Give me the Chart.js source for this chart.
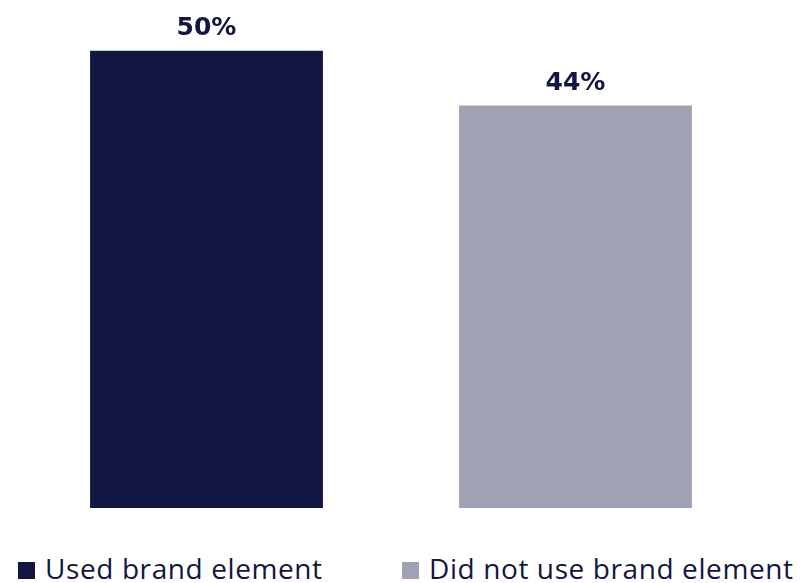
<!DOCTYPE html>
<html>
<head>
<meta charset="utf-8">
<script src="https://cdn.jsdelivr.net/npm/chart.js@4.4.1/dist/chart.umd.min.js"></script>
<style>
  html, body { margin: 0; padding: 0; background: #fff; }
  #wrap { position: relative; width: 801px; height: 583px; }
  #chartBox { width: 801px; height: 510px; }
  #legend { position: absolute; left: 18px; top: 551px; display: flex; }
  .item { display: flex; align-items: center; font: 28px "Open Sans", sans-serif; color: #131640; letter-spacing: 0.6px; line-height: 34px; }
  .item:first-child { width: 384px; }
  .swatch { width: 17px; height: 17px; margin-right: 10px; margin-top: 4px; }
</style>
</head>
<body>
<div id="wrap">
  <div id="chartBox"><canvas id="brandChart"></canvas></div>
  <div id="legend"></div>
</div>
<script>
const categories = ['Used brand element', 'Did not use brand element'];
const usedValues = [50, null];
const notUsedValues = [null, 44];
const colors = ['#131640', '#a0a1b3'];

// percentage labels above each bar
const valueLabels = {
  id: 'valueLabels',
  afterDatasetsDraw(chart) {
    const ctx = chart.ctx;
    ctx.save();
    ctx.font = 'bold 25px "DejaVu Sans"';
    ctx.fillStyle = '#131640';
    ctx.textAlign = 'center';
    ctx.textBaseline = 'alphabetic';
    chart.data.datasets.forEach((ds, i) => {
      chart.getDatasetMeta(i).data.forEach((bar, j) => {
        if (ds.data[j] == null) return;
        ctx.fillText(ds.data[j] + '%', bar.x, bar.y - 16);
      });
    });
    ctx.restore();
  }
};

const chart = new Chart(document.getElementById('brandChart').getContext('2d'), {
  type: 'bar',
  data: {
    labels: categories,
    datasets: [
      { label: categories[0], data: usedValues, backgroundColor: colors[0] },
      { label: categories[1], data: notUsedValues, backgroundColor: colors[1] }
    ]
  },
  options: {
    responsive: true,
    maintainAspectRatio: false,
    animation: false,
    layout: { padding: { top: 5, left: 22, right: 41, bottom: 2 } },
    datasets: { bar: { categoryPercentage: 1, barPercentage: 0.631 } },
    scales: {
      x: { stacked: true, display: false },
      y: { stacked: true, display: false, min: 0, max: 55 }
    },
    plugins: {
      tooltip: { enabled: false },
      legend: { display: false }
    }
  },
  plugins: [valueLabels]
});

// legend built from the chart's datasets
const legendEl = document.getElementById('legend');
chart.data.datasets.forEach(ds => {
  const item = document.createElement('div');
  item.className = 'item';
  const sw = document.createElement('span');
  sw.className = 'swatch';
  sw.style.background = ds.backgroundColor;
  item.appendChild(sw);
  item.appendChild(document.createTextNode(ds.label));
  legendEl.appendChild(item);
});
</script>
</body>
</html>
